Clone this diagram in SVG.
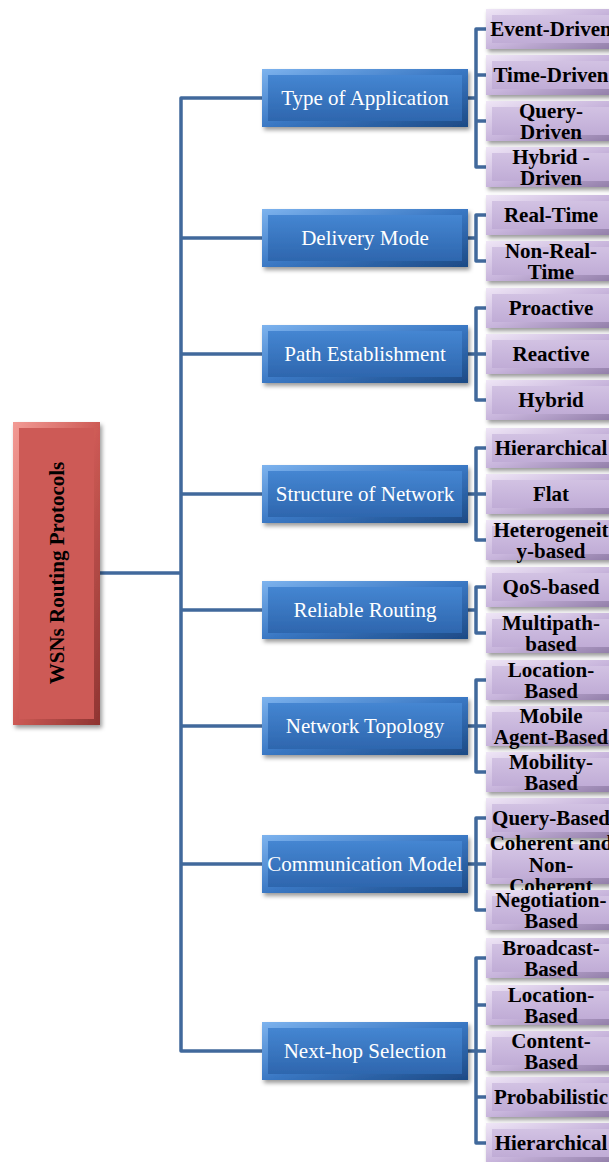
<svg xmlns="http://www.w3.org/2000/svg" xmlns:xlink="http://www.w3.org/1999/xlink" width="609" height="1162" viewBox="0 0 609 1162">
<style>
.c{fill:none;stroke:#41699c;stroke-width:3.5;stroke-linejoin:round;stroke-linecap:butt}
.bt{font-family:"Liberation Serif","Times New Roman",serif;font-size:21px;fill:#ffffff;text-anchor:middle}
.pt{font-family:"Liberation Serif","Times New Roman",serif;font-size:21px;font-weight:bold;fill:#000000;text-anchor:middle}
.rt{font-family:"Liberation Serif","Times New Roman",serif;font-size:21px;font-weight:bold;fill:#000000;text-anchor:middle}
</style>
<defs>
<filter id="sh" x="-10%" y="-20%" width="130%" height="150%">
<feDropShadow dx="2" dy="3" stdDeviation="2" flood-color="#000" flood-opacity="0.4"/>
</filter>
<linearGradient id="bo" x1="0" y1="0" x2="1" y2="1">
<stop offset="0" stop-color="#7db3ee"/><stop offset="0.5" stop-color="#3a78c4"/><stop offset="1" stop-color="#1d4a85"/>
</linearGradient>
<linearGradient id="bi" x1="0" y1="0" x2="0" y2="1">
<stop offset="0" stop-color="#4586d2"/><stop offset="1" stop-color="#2e66ae"/>
</linearGradient>
<linearGradient id="po" x1="0" y1="0" x2="1" y2="1">
<stop offset="0" stop-color="#efe6f6"/><stop offset="0.5" stop-color="#c8b5dc"/><stop offset="1" stop-color="#8f7ba6"/>
</linearGradient>
<linearGradient id="pi" x1="0" y1="0" x2="0" y2="1">
<stop offset="0" stop-color="#d2c2e3"/><stop offset="1" stop-color="#c0acd6"/>
</linearGradient>
<linearGradient id="ro" x1="0" y1="0" x2="1" y2="1">
<stop offset="0" stop-color="#f29a94"/><stop offset="0.5" stop-color="#cd5a55"/><stop offset="1" stop-color="#8e3431"/>
</linearGradient>
<g id="bbox" filter="url(#sh)">
<rect x="0" y="0" width="206" height="58" fill="url(#bo)"/>
<rect x="6" y="6" width="194" height="46" fill="url(#bi)"/>
</g>
<g id="pbox" filter="url(#sh)">
<rect x="0" y="0" width="132" height="40" fill="url(#po)"/>
<rect x="6" y="6" width="120" height="28" fill="url(#pi)"/>
</g>
</defs>
<rect width="609" height="1162" fill="#ffffff"/>
<g id="connectors">
<path class="c" d="M100 573 H181"/>
<path class="c" d="M262 98 H181 V1051 H262"/>
<path class="c" d="M181 238 H262 M181 354 H262 M181 494 H262 M181 610 H262 M181 726 H262 M181 864 H262"/>
<path class="c" d="M468 98 H476 M486 29 H476 V167 H486 M476 75 H486 M476 121 H486"/>
<path class="c" d="M468 238 H476 M486 215 H476 V261 H486"/>
<path class="c" d="M468 354 H476 M486 308 H476 V400 H486 M476 354 H486"/>
<path class="c" d="M468 494 H476 M486 448 H476 V540 H486 M476 494 H486"/>
<path class="c" d="M468 610 H476 M486 587 H476 V633 H486"/>
<path class="c" d="M468 726 H476 M486 680 H476 V772 H486 M476 726 H486"/>
<path class="c" d="M468 864 H476 M486 818 H476 V910 H486 M476 864 H486"/>
<path class="c" d="M468 1051 H476 M486 958 H476 V1143 H486 M476 1005 H486 M476 1051 H486 M476 1097 H486"/>
</g>
<g id="root">
<g filter="url(#sh)">
<rect x="13" y="422" width="87" height="303" fill="url(#ro)"/>
<rect x="19" y="428" width="75" height="291" fill="#cd5a56"/>
</g>
<text class="rt" transform="translate(64 573) rotate(-90)">WSNs Routing Protocols</text>
</g>
<g id="n-type"><use href="#bbox" x="262" y="69"/><text class="bt" x="365" y="105">Type of Application</text></g>
<g id="n-delivery"><use href="#bbox" x="262" y="209"/><text class="bt" x="365" y="245">Delivery Mode</text></g>
<g id="n-path"><use href="#bbox" x="262" y="325"/><text class="bt" x="365" y="361">Path Establishment</text></g>
<g id="n-structure"><use href="#bbox" x="262" y="465"/><text class="bt" x="365" y="501">Structure of Network</text></g>
<g id="n-reliable"><use href="#bbox" x="262" y="581"/><text class="bt" x="365" y="617">Reliable Routing</text></g>
<g id="n-topology"><use href="#bbox" x="262" y="697"/><text class="bt" x="365" y="733">Network Topology</text></g>
<g id="n-comm"><use href="#bbox" x="262" y="835"/><text class="bt" x="365" y="871">Communication Model</text></g>
<g id="n-nexthop"><use href="#bbox" x="262" y="1022"/><text class="bt" x="365" y="1058">Next-hop Selection</text></g>

<g id="p-event"><use href="#pbox" x="486" y="9"/><text class="pt" x="551" y="36">Event-Driven</text></g>
<g id="p-time"><use href="#pbox" x="486" y="55"/><text class="pt" x="551" y="82">Time-Driven</text></g>
<g id="p-query"><use href="#pbox" x="486" y="101"/><text class="pt" x="551" y="118">Query-</text><text class="pt" x="551" y="139">Driven</text></g>
<g id="p-hybridd"><use href="#pbox" x="486" y="147"/><text class="pt" x="551" y="164">Hybrid -</text><text class="pt" x="551" y="185">Driven</text></g>

<g id="p-realtime"><use href="#pbox" x="486" y="195"/><text class="pt" x="551" y="222">Real-Time</text></g>
<g id="p-nonreal"><use href="#pbox" x="486" y="241"/><text class="pt" x="551" y="258">Non-Real-</text><text class="pt" x="551" y="279">Time</text></g>

<g id="p-proactive"><use href="#pbox" x="486" y="288"/><text class="pt" x="551" y="315">Proactive</text></g>
<g id="p-reactive"><use href="#pbox" x="486" y="334"/><text class="pt" x="551" y="361">Reactive</text></g>
<g id="p-hybrid"><use href="#pbox" x="486" y="380"/><text class="pt" x="551" y="407">Hybrid</text></g>

<g id="p-hier1"><use href="#pbox" x="486" y="428"/><text class="pt" x="551" y="455">Hierarchical</text></g>
<g id="p-flat"><use href="#pbox" x="486" y="474"/><text class="pt" x="551" y="501">Flat</text></g>
<g id="p-hetero"><use href="#pbox" x="486" y="520"/><text class="pt" x="551" y="537">Heterogeneit</text><text class="pt" x="551" y="558">y-based</text></g>

<g id="p-qos"><use href="#pbox" x="486" y="567"/><text class="pt" x="551" y="594">QoS-based</text></g>
<g id="p-multipath"><use href="#pbox" x="486" y="613"/><text class="pt" x="551" y="630">Multipath-</text><text class="pt" x="551" y="651">based</text></g>

<g id="p-location1"><use href="#pbox" x="486" y="660"/><text class="pt" x="551" y="677">Location-</text><text class="pt" x="551" y="698">Based</text></g>
<g id="p-mobileagent"><use href="#pbox" x="486" y="706"/><text class="pt" x="551" y="723">Mobile</text><text class="pt" x="551" y="744">Agent-Based</text></g>
<g id="p-mobility"><use href="#pbox" x="486" y="752"/><text class="pt" x="551" y="769">Mobility-</text><text class="pt" x="551" y="790">Based</text></g>

<g id="p-querybased"><use href="#pbox" x="486" y="798"/><text class="pt" x="551" y="825">Query-Based</text></g>
<g id="p-coherent"><use href="#pbox" x="486" y="844"/><text class="pt" x="551" y="850">Coherent and</text><text class="pt" x="551" y="872">Non-</text><text class="pt" x="551" y="893">Coherent</text></g>
<g id="p-negotiation"><use href="#pbox" x="486" y="890"/><text class="pt" x="551" y="907">Negotiation-</text><text class="pt" x="551" y="928">Based</text></g>

<g id="p-broadcast"><use href="#pbox" x="486" y="938"/><text class="pt" x="551" y="955">Broadcast-</text><text class="pt" x="551" y="976">Based</text></g>
<g id="p-location2"><use href="#pbox" x="486" y="985"/><text class="pt" x="551" y="1002">Location-</text><text class="pt" x="551" y="1023">Based</text></g>
<g id="p-content"><use href="#pbox" x="486" y="1031"/><text class="pt" x="551" y="1048">Content-</text><text class="pt" x="551" y="1069">Based</text></g>
<g id="p-prob"><use href="#pbox" x="486" y="1077"/><text class="pt" x="551" y="1104">Probabilistic</text></g>
<g id="p-hier2"><use href="#pbox" x="486" y="1123"/><text class="pt" x="551" y="1150">Hierarchical</text></g>
</svg>
